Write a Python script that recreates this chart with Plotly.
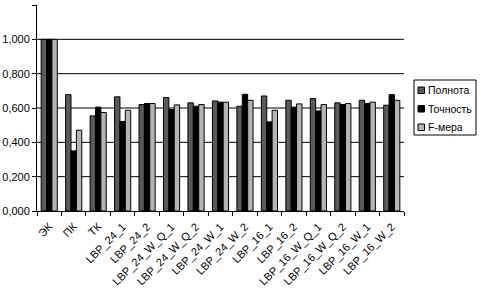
import plotly.graph_objects as go

categories = ["ЭК", "ПК", "ТК", "LBP_24_1", "LBP_24_2", "LBP_24_W_Q_1", "LBP_24_W_Q_2",
              "LBP_24_W_1", "LBP_24_W_2", "LBP_16_1", "LBP_16_2", "LBP_16_W_Q_1",
              "LBP_16_W_Q_2", "LBP_16_W_1", "LBP_16_W_2"]
recall = [1.000, 0.678, 0.554, 0.665, 0.620, 0.661, 0.630, 0.641, 0.610, 0.670, 0.645, 0.655, 0.630, 0.645, 0.616]
precision = [1.000, 0.350, 0.605, 0.521, 0.626, 0.591, 0.610, 0.634, 0.680, 0.519, 0.605, 0.583, 0.620, 0.626, 0.678]
fmeasure = [1.000, 0.471, 0.574, 0.587, 0.626, 0.618, 0.620, 0.634, 0.645, 0.587, 0.624, 0.620, 0.626, 0.634, 0.645]
series_names = ["Полнота", "Точность", "F-мера"]
series_colors = ["#5a5a5a", "#000000", "#b4b4b4"]
y_ticks = [0, 0.2, 0.4, 0.6, 0.8, 1.0, 1.2]
grid_vals = [0.2, 0.4, 0.6, 0.8, 1.0]

W, H = 481, 289
ML, MR, MT, MB = 37, 77, 5, 78
PW, PH = W - ML - MR, H - MT - MB

def px(xp):
    return (xp - ML) / PW

def py(yp):
    return (H - MB - yp) / PH

fig = go.Figure()
for name, vals, col in zip(series_names, [recall, precision, fmeasure], series_colors):
    fig.add_trace(go.Bar(x=categories, y=vals, name=name,
                         marker=dict(color=col, line=dict(color="#000", width=1))))

for g in grid_vals:
    fig.add_shape(type="line", xref="paper", x0=0, x1=1, yref="y", y0=g, y1=g,
                  line=dict(color="#000", width=1), layer="below")

# compact Excel-style legend
fig.add_shape(type="rect", xref="paper", yref="paper", x0=px(414), x1=px(476), y0=py(135), y1=py(80),
              line=dict(color="#000", width=1), fillcolor="white")
for i, (name, col) in enumerate(zip(series_names, series_colors)):
    yc = 90 + i * 18.5
    fig.add_shape(type="rect", xref="paper", yref="paper", x0=px(418), x1=px(424.5),
                  y0=py(yc + 3.5), y1=py(yc - 3),
                  line=dict(color="#000", width=1), fillcolor=col)
    fig.add_annotation(xref="paper", yref="paper", x=px(426), y=py(yc), text=name,
                       showarrow=False, xanchor="left", yanchor="middle",
                       font=dict(size=10.5, color="#000"))

fig.update_layout(
    width=W, height=H,
    margin=dict(l=ML, r=MR, t=MT, b=MB),
    paper_bgcolor="white", plot_bgcolor="white",
    barmode="group", bargap=0.34, bargroupgap=0,
    separators=", ",
    showlegend=False,
    font=dict(family="Liberation Sans, Arial", size=11, color="#000"),
    xaxis=dict(showline=True, linecolor="#000", linewidth=1, ticks="outside", ticklen=4,
               tickson="boundaries", tickcolor="#000", tickangle=-45, showgrid=False,
               tickfont=dict(size=11, color="#000"), automargin=False, ticklabelstandoff=4),
    yaxis=dict(range=[0, 1.2], tickvals=y_ticks, tickformat=".3f", showgrid=False,
               showline=True, linecolor="#000", linewidth=1, ticks="outside", ticklen=4,
               tickcolor="#000", zeroline=False, tickfont=dict(size=11, color="#000"),
               automargin=False),
)
fig.write_html("out.html", post_script="document.body.style.margin='0';",
               config={"displayModeBar": False, "staticPlot": True})
